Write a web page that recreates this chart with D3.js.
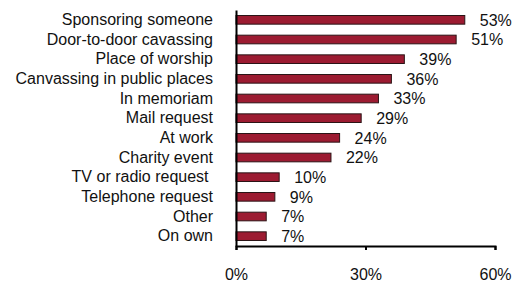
<!DOCTYPE html>
<html>
<head>
<meta charset="utf-8">
<script src="https://cdn.jsdelivr.net/npm/d3@7"></script>
<style>
  body { margin: 0; background: #fff; }
  text { font-family: "Liberation Sans", Arial, sans-serif; font-size: 16px; fill: #111; white-space: pre; }
</style>
</head>
<body>
<div id="chart"></div>
<script>
var categories = ["Sponsoring someone", "Door-to-door cavassing", "Place of worship",
    "Canvassing in public places", "In memoriam", "Mail request", "At work",
    "Charity event", "TV or radio request ", "Telephone request", "Other", "On own"];
var values = [53, 51, 39, 36, 33, 29, 24, 22, 10, 9, 7, 7];
var ticks = [0, 30, 60];

const width = 526;
const height = 283;
const plotLeft = 236, plotRight = 495, plotTop = 10, plotBottom = 246;

const svg = d3.select("#chart").append("svg")
    .attr("width", width)
    .attr("height", height);

var x = d3.scaleLinear().domain([0, 60]).range([plotLeft, plotRight]);
var y = d3.scaleBand().domain(categories).range([plotTop, plotBottom])
    .paddingInner(0.56)
    .paddingOuter(0.28);

// bars
svg.selectAll("rect.bar")
    .data(values)
    .enter()
    .append("rect")
    .attr("class", "bar")
    .attr("x", x(0))
    .attr("y", (d, i) => y(categories[i]))
    .attr("width", (d) => x(d) - x(0))
    .attr("height", y.bandwidth())
    .attr("fill", "#9c1b31")
    .attr("stroke", "#2b1416")
    .attr("stroke-width", 1);

// value labels
svg.selectAll("text.val")
    .data(values)
    .enter()
    .append("text")
    .attr("class", "val")
    .attr("x", (d) => x(d) + 15)
    .attr("y", (d, i) => y(categories[i]) + y.bandwidth() / 2)
    .attr("dy", "0.36em")
    .text((d) => d + "%");

// category axis
const yAxis = svg.append("g")
    .attr("transform", `translate(${plotLeft},0)`)
    .call(d3.axisLeft(y).tickSize(0).tickPadding(23));
yAxis.selectAll("text").style("font-size", "16px").attr("fill", "#111");
yAxis.select(".domain").attr("stroke", "#000").attr("stroke-width", 2);

// value axis
const xAxis = svg.append("g")
    .attr("transform", `translate(0,${plotBottom})`)
    .call(d3.axisBottom(x).tickValues(ticks).tickFormat((d) => d + "%")
        .tickSize(4).tickPadding(19));
xAxis.selectAll("text").style("font-size", "16px").attr("fill", "#111");
xAxis.selectAll("line").attr("stroke", "#000").attr("stroke-width", 2);
xAxis.select(".domain").attr("stroke", "#000").attr("stroke-width", 2);
</script>
</body>
</html>
